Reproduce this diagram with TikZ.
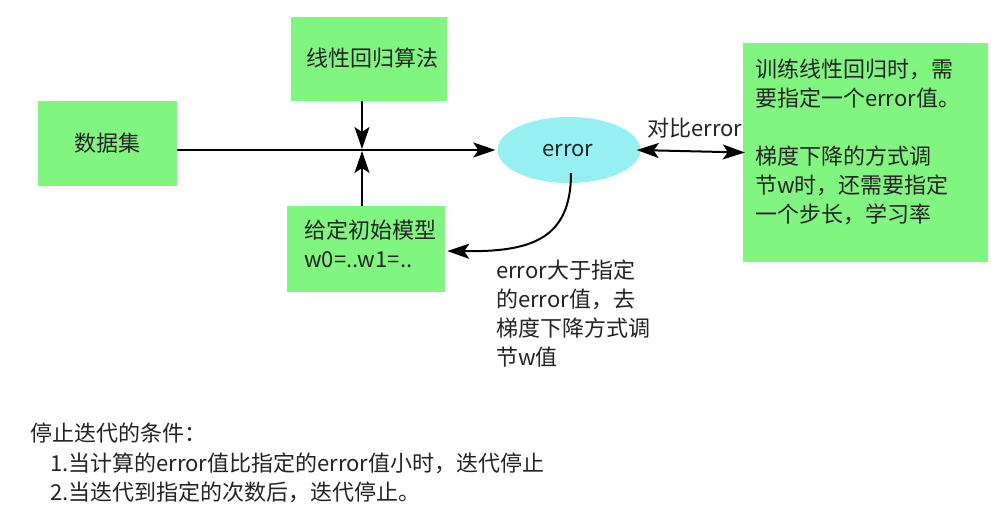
\documentclass[tikz,border=0pt]{standalone}
\usepackage{fontspec}
\setmainfont{Noto Sans CJK SC}
\usetikzlibrary{arrows.meta,shapes.geometric,calc}
\definecolor{boxgreen}{RGB}{128,245,128}
\definecolor{ellcyan}{RGB}{150,240,242}
\definecolor{txt}{RGB}{35,35,35}
\tikzset{tip/.tip={Stealth[length=22pt,width=15pt,inset=5pt]}}
\begin{document}
\begin{tikzpicture}[x=1pt,y=-1pt,
  gbox/.style={fill=boxgreen,draw=none,inner sep=0pt},
  lbl/.style={text=txt,font=\fontsize{22}{29}\selectfont,inner sep=0pt},
  conn/.style={line width=2pt,-tip}
]
\useasboundingbox (0,0) rectangle (1002,507);
\fill[white] (0,0) rectangle (1002,507);
% boxes
\node[gbox,minimum width=139pt,minimum height=85pt] (data) at (107.5,143.5) {};
\node[lbl] at (data.center) {数据集};
\node[gbox,minimum width=156pt,minimum height=84pt] (algo) at (369,59) {};
\node[lbl,anchor=west] at (306,58) {线性回归算法};
\node[gbox,minimum width=158pt,minimum height=86pt] (init) at (366,249) {};
\node[lbl,anchor=north west,align=left] at (304,220) {给定初始模型\\w0=..w1=..};
\node[fill=ellcyan,ellipse,draw=none,minimum width=143pt,minimum height=66pt,inner sep=0pt] (err) at (569,150) {};
\node[lbl] at (568,151) {error};
\node[gbox,minimum width=245pt,minimum height=219pt] (note) at (865.5,152.5) {};
\node[lbl,anchor=north west,align=left] at (755,59) {训练线性回归时，需\\要指定一个error值。\\[29pt]梯度下降的方式调\\节w时，还需要指定\\一个步长，学习率};
% connectors
\coordinate (junc) at (362,150);
\draw[conn] (data.east |- err.west) -- ([xshift=-2pt]err.west);
\draw[conn] (algo.south -| junc) -- ([yshift=1pt]junc);
\draw[conn] (init.north -| junc) -- ([yshift=-1pt]junc);
\draw[conn,tip-tip] ([xshift=-4pt]err.east) -- ([xshift=2pt]note.west);
\node[lbl] (cmp) at (695,128) {对比error};
\draw[conn] ([yshift=10pt,xshift=2pt]err.south) .. controls (571,240) and (530,252) .. ([xshift=2pt]init.east |- 0,251);
\node[lbl,anchor=north west,align=left] (cond) at (496,260) {error大于指定\\的error值，去\\梯度下降方式调\\节w值};
% bottom text
\node[lbl,anchor=west] (stop) at (30,433) {停止迭代的条件：};
\node[lbl,anchor=west] (s1) at (50,463) {1.当计算的error值比指定的error值小时，迭代停止};
\node[lbl,anchor=west] (s2) at (50,492) {2.当迭代到指定的次数后，迭代停止。};
\end{tikzpicture}
\end{document}
